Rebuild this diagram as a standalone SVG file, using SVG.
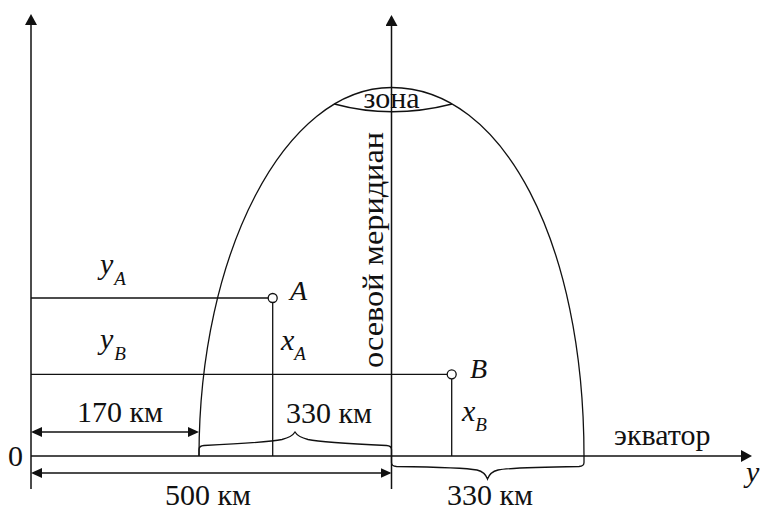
<svg xmlns="http://www.w3.org/2000/svg" width="763" height="512" viewBox="0 0 763 512">
<style>
.ln{fill:none;stroke:#111;stroke-width:1.3}
.ax{fill:none;stroke:#111;stroke-width:1.5}
.t{font-family:Liberation Serif,Times New Roman,Times,Tinos,DejaVu Serif,Noto Serif,FreeSerif,serif;font-size:30px;fill:#111}
.i{font-family:Liberation Serif,Times New Roman,Times,Tinos,DejaVu Serif,Noto Serif,FreeSerif,serif;font-style:italic;fill:#111}
.pt{fill:#fff;stroke:#111;stroke-width:1.3}
</style>
<defs>
<marker id="axh" markerUnits="userSpaceOnUse" viewBox="0 0 11 12" refX="9" refY="6" markerWidth="11" markerHeight="12" orient="auto-start-reverse">
<path d="M0,0 L11,6 L0,12 z" fill="#111"/>
</marker>
<marker id="dh" markerUnits="userSpaceOnUse" viewBox="0 0 11 10" refX="9" refY="5" markerWidth="11" markerHeight="10" orient="auto-start-reverse">
<path d="M0,0 L11,5 L0,10 z" fill="#111"/>
</marker>
</defs>
<rect width="763" height="512" fill="#fff"/>

<g id="connectors">
<line id="axis-x" class="ax" x1="31" y1="489" x2="31" y2="16" marker-end="url(#axh)"/>
<line id="meridian" class="ax" x1="391.5" y1="489" x2="391.5" y2="17" marker-end="url(#axh)"/>
<line id="equator" class="ax" x1="31" y1="456" x2="750" y2="456" marker-end="url(#axh)"/>
<line id="yA-line" class="ln" x1="31" y1="298" x2="268.2" y2="298"/>
<line id="xA-line" class="ln" x1="272.7" y1="302.5" x2="272.7" y2="456"/>
<line id="yB-line" class="ln" x1="31" y1="374.3" x2="447.2" y2="374.3"/>
<line id="xB-line" class="ln" x1="451.7" y1="378.8" x2="451.7" y2="456"/>
<line id="dim-170" class="ln" x1="33" y1="432" x2="197" y2="432" marker-start="url(#dh)" marker-end="url(#dh)"/>
<line id="dim-500" class="ln" x1="33" y1="473" x2="389.5" y2="473" marker-start="url(#dh)" marker-end="url(#dh)"/>
<path id="brace-top" class="ln" d="M199,456 V449.5 Q199,445.8 204,445.5 Q268,442.5 282,439.5 Q292,437 295,432 Q298,437 308,439.5 Q322,442.5 386.5,445.5 Q391.5,445.8 391.5,449.5 V456"/>
<path id="brace-bottom" class="ln" d="M391.5,456 V462.5 Q391.5,466.3 396.5,466.5 Q464,467.5 477,470 Q485,472 487.5,479 Q490,472 498,470 Q511,467.5 579,466.5 Q584,466.3 584,462.5 V456"/>
</g>

<g id="zone">
<path id="zone-outline" class="ln" d="M199,456 C199,252.5 285.2,87.5 391.5,87.5 C503.2,87.5 584,242.3 584,456"/>
<path id="zone-cap" class="ln" d="M334.4,104 Q391.5,119.5 452.1,104"/>
<text class="t" x="391.5" y="108" text-anchor="middle">зона</text>
</g>

<g id="meridian-label">
<text class="t" transform="translate(382.5,368) rotate(-90)" x="0" y="0" font-size="41" textLength="236" lengthAdjust="spacingAndGlyphs">осевой меридиан</text>
</g>

<g id="point-A">
<circle class="pt" cx="272.7" cy="298" r="4.5"/>
<text class="i" x="290" y="300" font-size="28">A</text>
</g>
<g id="point-B">
<circle class="pt" cx="451.7" cy="374.3" r="4.5"/>
<text class="i" x="470" y="378" font-size="28">B</text>
</g>

<g id="labels">
<text class="t" x="8" y="466">0</text>
<text class="i" x="100" y="274" font-size="30">y<tspan font-size="19" dx="1" dy="11">A</tspan></text>
<text class="i" x="100" y="349" font-size="30">y<tspan font-size="19" dx="1" dy="11">B</tspan></text>
<text class="i" x="281" y="350" font-size="30">x<tspan font-size="19" dx="0" dy="10">A</tspan></text>
<text class="i" x="462" y="421" font-size="30">x<tspan font-size="19" dx="0" dy="10">B</tspan></text>
<text class="t" x="120" y="422" text-anchor="middle">170 км</text>
<text class="t" x="329" y="423" text-anchor="middle">330 км</text>
<text class="t" x="208" y="505" text-anchor="middle">500 км</text>
<text class="t" x="490" y="505" text-anchor="middle">330 км</text>
<text class="t" x="614" y="445">экватор</text>
<text class="i" x="746" y="482" font-size="30">y</text>
</g>
</svg>
